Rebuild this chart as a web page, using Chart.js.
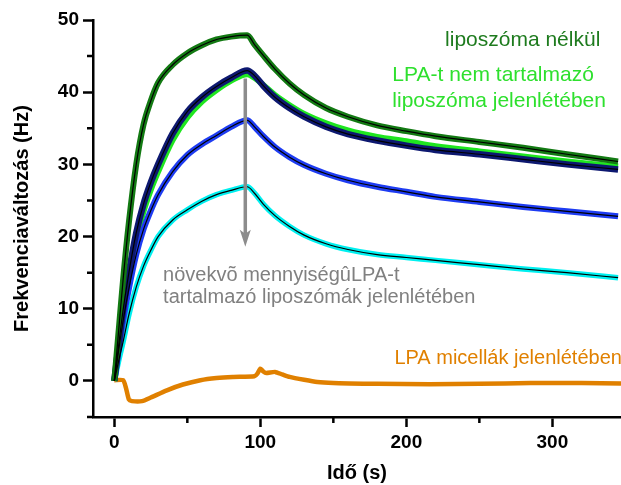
<!DOCTYPE html>
<html>
<head>
<meta charset="utf-8">
<script src="https://cdn.jsdelivr.net/npm/chart.js@4.4.0/dist/chart.umd.min.js"></script>
<style>
  html, body { margin: 0; padding: 0; background: #fff; }
  #wrap { width: 621px; height: 485px; }
</style>
</head>
<body>
<div id="wrap"><canvas id="freqChart" width="621" height="485"></canvas></div>
<script>
// time axis (s) shared by the liposome curves
const timeS = [0, 3, 6, 10, 15, 20, 25, 30, 40, 50, 60, 70, 80, 91, 96, 102, 110, 120, 130, 145, 160, 180, 200, 220, 250, 280, 310, 345];

// frequency change (Hz) for each curve
const noLiposome   = [0, 7, 14, 22, 30, 35.5, 38.8, 41.3, 43.8, 45.4, 46.5, 47.3, 47.7, 47.9, 46.6, 45.1, 43.2, 41.2, 39.6, 37.8, 36.6, 35.4, 34.6, 33.9, 33.1, 32.3, 31.4, 30.4];
const lpaFreeLipo  = [0, 4.7, 9.3, 14.3, 19.6, 23.5, 26.5, 29, 33.4, 36.5, 38.7, 40.3, 41.6, 42.5, 42.0, 41.0, 39.6, 38.2, 37.0, 35.7, 34.7, 33.8, 33.2, 32.5, 31.8, 31.1, 30.4, 29.7];
const lpaLow       = [0, 5, 9.8, 15, 20.5, 24.5, 27.5, 30, 34.3, 37.3, 39.3, 40.8, 42, 43, 42.3, 40.9, 39.3, 37.8, 36.6, 35.2, 34.2, 33.3, 32.6, 32.0, 31.4, 30.7, 30.0, 29.3];
const lpaMid       = [0, 4.3, 8.3, 12.8, 17.5, 21, 23.6, 25.8, 29, 31.3, 32.8, 34, 35.2, 36.1, 35.2, 33.9, 32.4, 31.0, 29.9, 28.7, 27.8, 26.9, 26.2, 25.5, 24.8, 24.1, 23.5, 22.8];
const lpaHigh      = [0, 2.8, 5.4, 9.2, 13, 15.9, 18.1, 20, 22.3, 23.7, 24.9, 25.8, 26.4, 26.9, 26.0, 24.5, 22.9, 21.4, 20.2, 19.0, 18.2, 17.5, 17.1, 16.7, 16.1, 15.5, 15.0, 14.3];

// LPA micelle curve has its own sampling
const micelleT = [0, 6, 8, 10, 12, 19, 25, 36, 47, 59, 70, 81, 96, 98, 100, 102, 104, 110, 115, 120, 130, 139, 150, 161, 180, 216, 250, 285, 320, 347];
const micelleV = [0.1, 0.1, -1, -2.6, -2.8, -2.8, -2.3, -1.3, -0.5, 0.1, 0.4, 0.55, 0.65, 1.0, 1.7, 1.3, 1.1, 1.25, 0.9, 0.55, 0.15, -0.15, -0.3, -0.35, -0.4, -0.45, -0.4, -0.3, -0.3, -0.35];

// axis ticks
const xMajorTicks = [0, 100, 200, 300];
const xMinorTicks = [50, 150, 250];
const yMajorTicks = [0, 10, 20, 30, 40, 50];
const yMinorTicks = [-5, 5, 15, 25, 35, 45];

const FONT = "'Liberation Sans', Arial, sans-serif";

const toPoints = (xs, ys) => xs.map((t, i) => ({ x: t, y: ys[i] }));

function curve(values, color, width, order) {
    return {
        data: toPoints(timeS, values),
        borderColor: color,
        borderWidth: width,
        pointRadius: 0,
        cubicInterpolationMode: 'monotone',
        fill: false,
        order: order
    };
}

// small outward minor ticks (Chart.js has no minor ticks of its own)
const minorTicksPlugin = {
    id: 'minorTicks',
    afterDraw(chart) {
        const { ctx, scales: { x, y } } = chart;
        ctx.save();
        ctx.strokeStyle = '#000';
        ctx.lineWidth = 2.5;
        ctx.beginPath();
        xMinorTicks.forEach(v => {
            const px = x.getPixelForValue(v);
            ctx.moveTo(px, x.top);
            ctx.lineTo(px, x.top + 6);
        });
        yMinorTicks.forEach(v => {
            const py = y.getPixelForValue(v);
            ctx.moveTo(y.right, py);
            ctx.lineTo(y.right - 6, py);
        });
        ctx.stroke();
        ctx.restore();
    }
};

// arrow and curve captions
const notesPlugin = {
    id: 'notes',
    afterDatasetsDraw(chart) {
        const { ctx, scales: { x, y } } = chart;
        ctx.save();

        const ax = x.getPixelForValue(89.7);
        const aTop = y.getPixelForValue(41.9);
        const aTip = y.getPixelForValue(18.6);
        ctx.strokeStyle = '#8c8c8c';
        ctx.fillStyle = '#8c8c8c';
        ctx.lineWidth = 3.5;
        ctx.beginPath();
        ctx.moveTo(ax, aTop);
        ctx.lineTo(ax, aTip - 12);
        ctx.stroke();
        ctx.beginPath();
        ctx.moveTo(ax - 5.5, aTip - 17);
        ctx.lineTo(ax, aTip - 13);
        ctx.lineTo(ax + 5.5, aTip - 17);
        ctx.lineTo(ax, aTip);
        ctx.closePath();
        ctx.fill();

        const notes = [
            { text: 'liposzóma nélkül', t: 226.5, v: 46.4, color: '#1e7b1e', size: 21 },
            { text: 'LPA-t nem tartalmazó', t: 190.4, v: 41.5, color: '#2ee02e', size: 21 },
            { text: 'liposzóma jelenlétében', t: 190.4, v: 37.9, color: '#2ee02e', size: 21 },
            { text: 'növekvõ mennyiségûLPA-t', t: 33.4, v: 13.85, color: '#808080', size: 20 },
            { text: 'tartalmazó liposzómák jelenlétében', t: 33.4, v: 10.75, color: '#808080', size: 20 },
            { text: 'LPA micellák jelenlétében', t: 191.8, v: 2.4, color: '#e08000', size: 20 }
        ];
        ctx.textAlign = 'left';
        ctx.textBaseline = 'alphabetic';
        notes.forEach(n => {
            ctx.font = `${n.size}px ${FONT}`;
            ctx.fillStyle = n.color;
            ctx.fillText(n.text, x.getPixelForValue(n.t), y.getPixelForValue(n.v));
        });
        ctx.restore();
    }
};

const ctx = document.getElementById('freqChart').getContext('2d');

new Chart(ctx, {
    type: 'line',
    data: {
        datasets: [
            // thin black fitted lines on top
            curve(noLiposome, '#000', 1.2, 1),
            curve(lpaLow, '#000', 1.2, 1),
            curve(lpaMid, '#000', 1.2, 1),
            curve(lpaHigh, '#000', 1.2, 1),
            // measured curves
            curve(noLiposome, '#137a13', 6, 2),
            curve(lpaLow, '#0d1870', 6.5, 2),
            curve(lpaFreeLipo, '#1fe61f', 6, 3),
            curve(lpaMid, '#1e3cf2', 6, 2),
            curve(lpaHigh, '#00f0f0', 5.5, 2),
            {
                data: toPoints(micelleT, micelleV),
                borderColor: '#e08000',
                borderWidth: 4.5,
                pointRadius: 0,
                tension: 0.2,
                fill: false,
                order: 2
            }
        ]
    },
    options: {
        responsive: false,
        animation: false,
        layout: { padding: { top: 20, right: 0, left: 0, bottom: 0 } },
        plugins: {
            legend: { display: false },
            tooltip: { enabled: false }
        },
        scales: {
            x: {
                type: 'linear',
                min: -14.6,
                max: 347,
                afterBuildTicks: s => { s.ticks = xMajorTicks.map(v => ({ value: v })); },
                afterFit: s => { s.height = 68; },
                border: { display: true, color: '#000', width: 2.5 },
                grid: { drawOnChartArea: false, drawTicks: true, tickLength: 10, tickWidth: 2.5, tickColor: '#000' },
                ticks: { color: '#000', padding: 4, maxRotation: 0, font: { family: FONT, size: 19, weight: 'bold' } },
                title: {
                    display: true,
                    text: 'Idő (s)',
                    color: '#000',
                    padding: { top: 0, bottom: 0 },
                    font: { family: FONT, size: 20, weight: 'bold' }
                }
            },
            y: {
                type: 'linear',
                min: -5,
                max: 50,
                afterBuildTicks: s => { s.ticks = yMajorTicks.map(v => ({ value: v })); },
                afterFit: s => { s.width = 93; },
                border: { display: true, color: '#000', width: 2.5 },
                grid: { drawOnChartArea: false, drawTicks: true, tickLength: 10, tickWidth: 2.5, tickColor: '#000' },
                ticks: { color: '#000', padding: 4, font: { family: FONT, size: 19, weight: 'bold' } },
                title: {
                    display: true,
                    text: 'Frekvenciaváltozás (Hz)',
                    color: '#000',
                    padding: { top: 10, bottom: 0 },
                    font: { family: FONT, size: 20, weight: 'bold' }
                }
            }
        }
    },
    plugins: [minorTicksPlugin, notesPlugin]
});
</script>
</body>
</html>
